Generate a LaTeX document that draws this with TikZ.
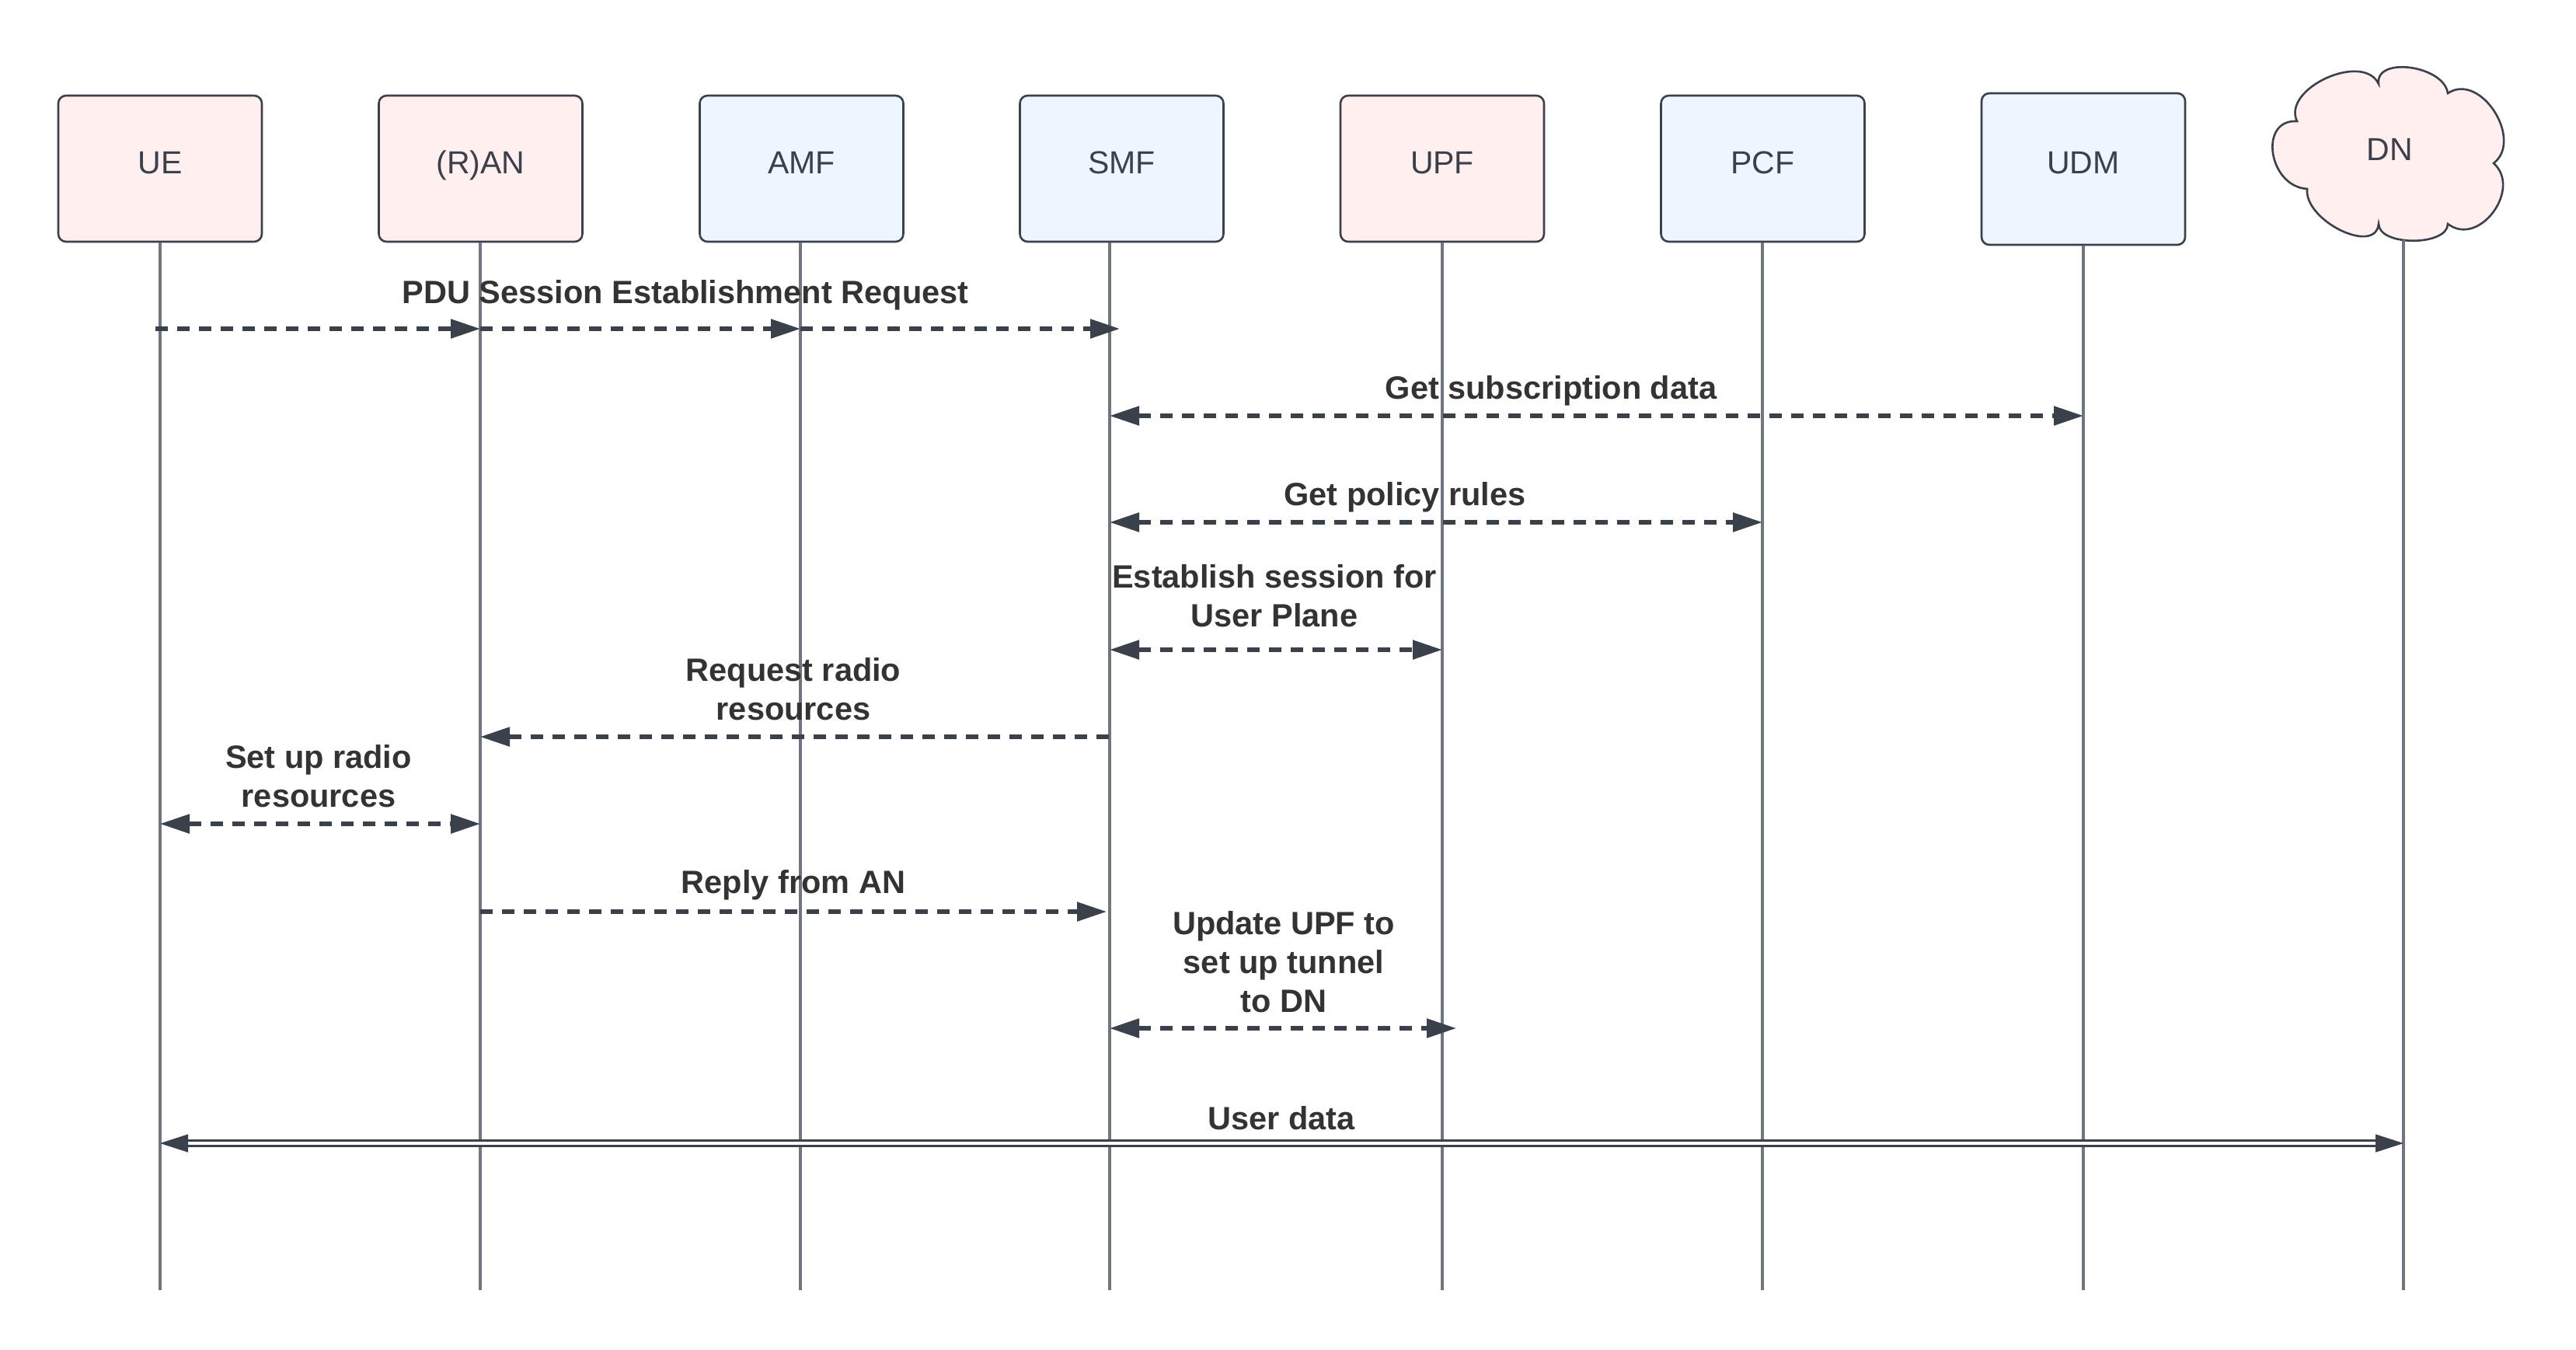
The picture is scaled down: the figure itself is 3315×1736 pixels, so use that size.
\documentclass[tikz,border=0pt]{standalone}
\usepackage{fontspec}
\setmainfont{Liberation Sans}
\usetikzlibrary{arrows.meta}
\definecolor{pinkfill}{HTML}{FFEFEF}
\definecolor{bluefill}{HTML}{EDF5FF}
\definecolor{edgec}{HTML}{3A414A}
\definecolor{lifec}{HTML}{6F7681}
\definecolor{textc}{HTML}{333333}
\begin{document}
\begin{tikzpicture}[x=0.5pt,y=-0.5pt,
  >={Triangle[length=19pt,width=12pt]},
  actor/.style={draw=edgec, line width=1.3pt, rounded corners=5pt,
    minimum width=131pt, minimum height=94pt, inner sep=0pt,
    font=\fontsize{20.5}{24}\selectfont, text=edgec,
    text height=0.82em, text depth=0.2em},
  pinkbox/.style={actor, fill=pinkfill},
  bluebox/.style={actor, fill=bluefill},
  lifeline/.style={draw=lifec, line width=1.8pt},
  msg/.style={draw=edgec, line width=2.6pt, dash pattern=on 8pt off 6pt},
  lbl/.style={font=\bfseries\fontsize{20.75}{25}\selectfont, text=textc,
    align=center, inner sep=0pt},
  userdata/.style={draw=edgec, double=white, line width=1.7pt, double distance=2pt},
  udtip/.style={draw=edgec, line width=0.6pt, -{Triangle[length=18pt,width=11.5pt]}},
  cloudsty/.style={draw=edgec, fill=pinkfill, line width=1.3pt}
]
\useasboundingbox (0,0) rectangle (3315,1736);
\fill[white] (0,0) rectangle (3315,1736);

% actors
\node[pinkbox] (ue)  at (206,217)    {UE};
\node[pinkbox] (ran) at (618.5,217)  {(R)AN};
\node[bluebox] (amf) at (1031.5,217) {AMF};
\node[bluebox] (smf) at (1443.5,217) {SMF};
\node[pinkbox] (upf) at (1856,217)   {UPF};
\node[bluebox] (pcf) at (2268.5,217) {PCF};
\node[bluebox, minimum height=97.5pt] (udm) at (2681,217.5) {UDM};

% DN cloud
\draw[cloudsty] (2956,156)
  .. controls (2906,153) and (2919,240) .. (2969,243)
  .. controls (2965,284) and (3057,329) .. (3061,288)
  .. controls (3061,317) and (3150,317) .. (3150,288)
  .. controls (3190,319) and (3246,243) .. (3209,210)
  .. controls (3248,180) and (3192,92) .. (3150,120)
  .. controls (3145,84) and (3056,72) .. (3061,108)
  .. controls (3041,66) and (2936,114) .. (2956,156) -- cycle;
\node[font=\fontsize{20.5}{24}\selectfont, text=edgec, inner sep=0pt,
  text height=0.82em, text depth=0.2em] (dn) at (3075,200) {DN};
\coordinate (dnT) at (3093,309);

% lifeline bottoms
\coordinate (ueB)  at (206,1660);
\coordinate (ranB) at (618,1660);
\coordinate (amfB) at (1030,1660);
\coordinate (smfB) at (1428,1660);
\coordinate (upfB) at (1856,1660);
\coordinate (pcfB) at (2268,1660);
\coordinate (udmB) at (2681,1660);
\coordinate (dnB)  at (3093,1660);

% lifelines
\draw[lifeline] (ueB |- ue.south) -- (ueB);
\draw[lifeline] (ranB |- ran.south) -- (ranB);
\draw[lifeline] (amfB |- amf.south) -- (amfB);
\draw[lifeline] (smfB |- smf.south) -- (smfB);
\draw[lifeline] (upfB |- upf.south) -- (upfB);
\draw[lifeline] (pcfB |- pcf.south) -- (pcfB);
\draw[lifeline] (udmB |- udm.south) -- (udmB);
\draw[lifeline] (dnT) -- (dnB);

% message rows
\coordinate (m1) at (0,423);
\coordinate (m2) at (0,535);
\coordinate (m3) at (0,672);
\coordinate (m4) at (0,836);
\coordinate (m5) at (0,948);
\coordinate (m6) at (0,1060);
\coordinate (m7) at (0,1173);
\coordinate (m8) at (0,1323);
\coordinate (m9) at (0,1471);

% 1
\node[lbl] (l1) at (882,380) {PDU Session Establishment Request};
\draw[msg,->,shorten <=-3pt] (ueB |- m1) -- (ranB |- m1);
\draw[msg,->] (ranB |- m1) -- (amfB |- m1);
\draw[msg,->,shorten >=-6.5pt] (amfB |- m1) -- (smfB |- m1);
% 2
\node[lbl] (l2) at (1996,503) {Get subscription data};
\draw[msg,<->] (smfB |- m2) -- (udmB |- m2);
% 3
\node[lbl] (l3) at (1808,640) {Get policy rules};
\draw[msg,<->] (smfB |- m3) -- (pcfB |- m3);
% 4
\node[lbl] (l4) at (1640,767) {Establish session for\\User Plane};
\draw[msg,<->] (smfB |- m4) -- (upfB |- m4);
% 5
\node[lbl] (l5) at (1021,887) {Request radio\\resources};
\draw[msg,<-] (ranB |- m5) -- (smfB |- m5);
% 6
\node[lbl] (l6) at (410,999) {Set up radio\\resources};
\draw[msg,<->] (ueB |- m6) -- (ranB |- m6);
% 7
\node[lbl] (l7) at (1021,1139) {Reply from AN};
\draw[msg,->,shorten >=2pt] (ranB |- m7) -- (smfB |- m7);
% 8
\node[lbl] (l8) at (1652,1238) {Update UPF to\\set up tunnel\\to DN};
\draw[msg,<->,shorten >=-9pt] (smfB |- m8) -- (upfB |- m8);
% 9
\node[lbl] (l9) at (1649,1439) {User data};
\draw[userdata,shorten <=17pt,shorten >=17pt] (ueB |- m9) -- (dnB |- m9);
\draw[udtip] ([xshift=15pt]ueB |- m9) -- (ueB |- m9);
\draw[udtip] ([xshift=-15pt]dnB |- m9) -- (dnB |- m9);
\end{tikzpicture}
\end{document}
